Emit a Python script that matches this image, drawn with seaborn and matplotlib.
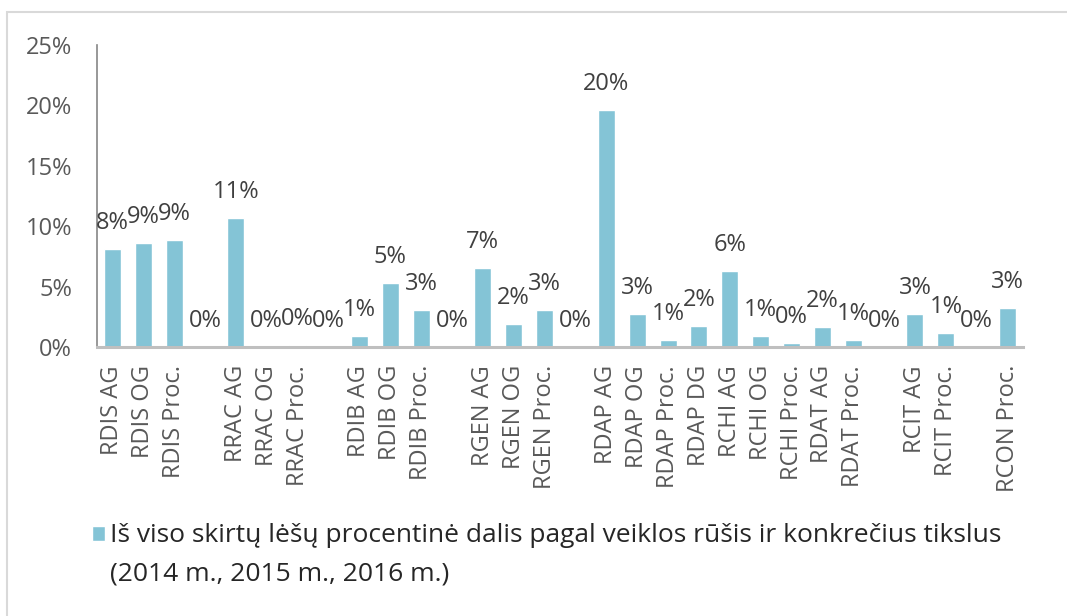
import matplotlib
matplotlib.use("Agg")
import matplotlib.pyplot as plt
import seaborn as sns
import pandas as pd
from matplotlib.patches import Rectangle

# categories (blank slots are gaps between groups, kept unique with spaces)
categories = ["RDIS AG", "RDIS OG", "RDIS Proc.", " ",
              "RRAC AG", "RRAC OG", "RRAC Proc.", "  ",
              "RDIB AG", "RDIB OG", "RDIB Proc.", "   ",
              "RGEN AG", "RGEN OG", "RGEN Proc.", "    ",
              "RDAP AG", "RDAP OG", "RDAP Proc.", "RDAP DG",
              "RCHI AG", "RCHI OG", "RCHI Proc.", "RDAT AG", "RDAT Proc.", "     ",
              "RCIT AG", "RCIT Proc.", "      ", "RCON Proc."]
# share of total funds, percent
values = [8.15, 8.64, 8.83, 0.0,
          10.68, 0.0, 0.15, 0.0,
          0.91, 5.27, 3.10, 0.0,
          6.52, 1.94, 3.04, 0.0,
          19.6, 2.71, 0.55, 1.74,
          6.27, 0.94, 0.33, 1.69, 0.55, 0.0,
          2.71, 1.16, 0.0, 3.26]
legend_line1 = "Iš viso skirtų lėšų procentinė dalis pagal veiklos rūšis ir konkrečius tikslus"
legend_line2 = "(2014 m., 2015 m., 2016 m.)"

df = pd.DataFrame({"cat": categories, "val": values})

sns.set_style("white")
plt.rcParams["font.family"] = ["Open Sans", "DejaVu Sans"]

bar_color = "#84C4D6"
fig = plt.figure(figsize=(10.67, 6.16), dpi=100)
ax = fig.add_axes([97 / 1067, 1 - 347 / 616, (1023 - 97) / 1067, (347 - 45) / 616])

sns.barplot(data=df, x="cat", y="val", color=bar_color, width=0.55,
            saturation=1, ax=ax, label=legend_line1)

for i, v in enumerate(values):
    ax.annotate(f"{v:.0f}%", (i, v), xytext=(0, 10), textcoords="offset points",
                ha="center", va="bottom", fontsize=17, color="#404040")

ax.set_xlim(-0.5, len(categories) - 0.5)
ax.set_ylim(0, 25)
ax.set_yticks([0, 5, 10, 15, 20, 25])
ax.set_yticklabels([f"{t}%" for t in [0, 5, 10, 15, 20, 25]])
ax.tick_params(axis="y", length=0, pad=18, labelsize=17, labelcolor="#595959")
ax.tick_params(axis="x", length=0, pad=13, labelsize=17, labelcolor="#595959")
plt.setp(ax.get_xticklabels(), rotation=90)
ax.set_xlabel("")
ax.set_ylabel("")

for s in ["top", "right"]:
    ax.spines[s].set_visible(False)
ax.spines["left"].set_color("#868686")
ax.spines["left"].set_linewidth(1.2)
ax.spines["bottom"].set_color("#BFBFBF")
ax.spines["bottom"].set_linewidth(2.2)

leg = ax.legend(loc="center left", bbox_to_anchor=(92 / 1067, 1 - 536 / 616),
                bbox_transform=fig.transFigure, frameon=False, fontsize=19,
                handlelength=0.5, handleheight=0.5, handletextpad=0.2,
                borderpad=0, borderaxespad=0, labelcolor="#262626")
fig.text(110 / 1067, 1 - 574 / 616, legend_line2, fontsize=19, color="#262626",
         va="center", ha="left")

# outer chart border
fig.patches.append(Rectangle((7 / 1067, -0.1), 1.2, 1.1 - 12 / 616,
                             transform=fig.transFigure, fill=False,
                             edgecolor="#D9D9D9", linewidth=1.5))

fig.savefig("out.png", dpi=100, facecolor="white")
